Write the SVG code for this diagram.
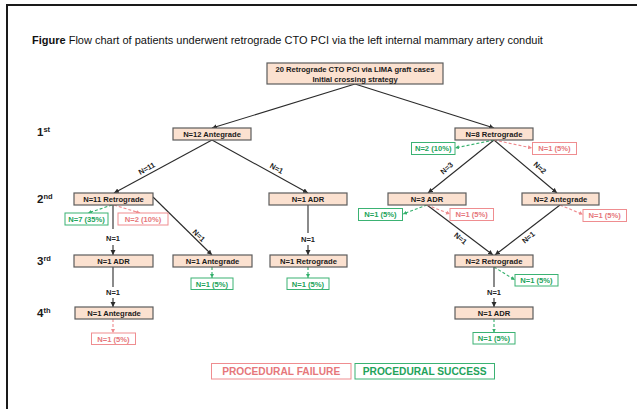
<svg xmlns="http://www.w3.org/2000/svg" width="637" height="409" viewBox="0 0 637 409">
<defs>
<marker id="arr" markerUnits="userSpaceOnUse" markerWidth="6" markerHeight="6" refX="5" refY="2.5" orient="auto"><path d="M0,0 L5,2.5 L0,5 Z" fill="#2b2b2b"/></marker>
<marker id="arrG" markerUnits="userSpaceOnUse" markerWidth="6" markerHeight="6" refX="4" refY="2" orient="auto"><path d="M0,0 L4,2 L0,4 Z" fill="#34b06c"/></marker>
<marker id="arrR" markerUnits="userSpaceOnUse" markerWidth="6" markerHeight="6" refX="4" refY="2" orient="auto"><path d="M0,0 L4,2 L0,4 Z" fill="#ee8a8e"/></marker>
</defs>
<style>
text{font-family:"Liberation Sans",Arial,sans-serif}
.node rect{fill:#fbe1d0;stroke:#5c5c5c;stroke-width:1.2}
.node text{font-weight:bold;font-size:7.6px;fill:#1a1a1a;text-anchor:middle}
.ok rect{fill:#fff;stroke:#3bb273;stroke-width:1}
.ok text{font-weight:bold;font-size:7.6px;fill:#22a35a;text-anchor:middle}
.fail rect{fill:#fff;stroke:#ef8d90;stroke-width:1}
.fail text{font-weight:bold;font-size:7.6px;fill:#e6777b;text-anchor:middle}
.e{stroke:#2b2b2b;stroke-width:1.1;fill:none}
.ea{marker-end:url(#arr)}
.dg{stroke:#34b06c;stroke-width:1.1;stroke-dasharray:3 2;fill:none;marker-end:url(#arrG)}
.dr{stroke:#ee8a8e;stroke-width:1.1;stroke-dasharray:3 2;fill:none;marker-end:url(#arrR)}
.lbl{font-weight:bold;font-size:7.5px;fill:#222;text-anchor:middle}
.lvl{font-weight:bold;font-size:11.5px;fill:#1a1a1a}
.leg{font-weight:bold;font-size:10.2px;text-anchor:middle}
</style>
<rect x="0" y="0" width="637" height="409" fill="#fff"/>
<path d="M7,409 V5 H637" fill="none" stroke="#1a1a1a" stroke-width="2"/>
<text x="32" y="44" font-size="11" fill="#111"><tspan font-weight="bold">Figure</tspan> Flow chart of patients underwent retrograde CTO PCI via the left internal mammary artery conduit</text>

<g id="levels">
<text class="lvl" x="37" y="135.7">1<tspan font-size="7.5" dy="-4">st</tspan></text>
<text class="lvl" x="37" y="203">2<tspan font-size="7.5" dy="-4">nd</tspan></text>
<text class="lvl" x="37" y="265">3<tspan font-size="7.5" dy="-4">rd</tspan></text>
<text class="lvl" x="37" y="317">4<tspan font-size="7.5" dy="-4">th</tspan></text>
</g>

<g id="connectors">
<path class="e ea" d="M355,84 L212,128"/>
<path class="e ea" d="M355,84 L494,128"/>
<path class="e ea" d="M212,140 L114,193"/>
<path class="e ea" d="M212,140 L308,193"/>
<path class="e ea" d="M494,140 L428,193"/>
<path class="e ea" d="M494,140 L557,193"/>
<path class="e" d="M113,205 V229"/>
<path class="e ea" d="M113,245 V255"/>
<path class="e ea" d="M153,197 L212,255"/>
<path class="e" d="M308,205 V233"/>
<path class="e ea" d="M308,245 V255"/>
<path class="e ea" d="M427,205 L493,255"/>
<path class="e ea" d="M560,205 L495,255"/>
<path class="e" d="M113,267 V287"/>
<path class="e ea" d="M113,298 V307"/>
<path class="e" d="M494,267 V287"/>
<path class="e ea" d="M494,298 V307"/>
<path class="dg" d="M112,205 L88,213"/>
<path class="dr" d="M114,205 L140,213"/>
<path class="dg" d="M212,267 V278"/>
<path class="dg" d="M308,267 V278"/>
<path class="dr" d="M113,319 V333"/>
<path class="dg" d="M494,140 L455,148"/>
<path class="dr" d="M494,140 L532,148"/>
<path class="dg" d="M427,205 L403,214"/>
<path class="dr" d="M427,205 L450,214"/>
<path class="dr" d="M560,205 L583,214.5"/>
<path class="dg" d="M494,267 L515,280"/>
<path class="dg" d="M494,319 V332.5"/>
<text class="lbl" transform="translate(146.7,168.3) rotate(-28.5)" y="2.7">N=11</text>
<text class="lbl" transform="translate(276.7,168.3) rotate(29)" y="2.7">N=1</text>
<text class="lbl" x="113" y="241.2">N=1</text>
<text class="lbl" transform="translate(199,235.5) rotate(44.5)" y="2.7">N=1</text>
<text class="lbl" x="308" y="242.2">N=1</text>
<text class="lbl" transform="translate(446.7,168) rotate(-42)" y="2.7">N=3</text>
<text class="lbl" transform="translate(540,167.7) rotate(42)" y="2.7">N=2</text>
<text class="lbl" transform="translate(460.7,238.3) rotate(40)" y="2.7">N=1</text>
<text class="lbl" transform="translate(528.3,237.3) rotate(-40)" y="2.7">N=1</text>
<text class="lbl" x="113" y="295.2">N=1</text>
<text class="lbl" x="494" y="295.2">N=1</text>
</g>

<g id="n-root" class="node"><rect x="267" y="63" width="176" height="21"/><text x="355" y="72.3">20 Retrograde CTO PCI via LIMA graft cases</text><text x="355" y="81.8">Initial crossing strategy</text></g>
<g id="n-ante12" class="node"><rect x="173" y="128" width="78" height="12"/><text x="212" y="136.7">N=12 Antegrade</text></g>
<g id="n-retro8" class="node"><rect x="455" y="128" width="78" height="12"/><text x="494" y="136.7">N=8 Retrograde</text></g>
<g id="n-retro11" class="node"><rect x="74" y="193" width="79" height="12"/><text x="113.5" y="201.7">N=11 Retrograde</text></g>
<g id="n-adr1" class="node"><rect x="269" y="193" width="78" height="12"/><text x="308" y="201.7">N=1 ADR</text></g>
<g id="n-adr3" class="node"><rect x="388" y="193" width="78" height="12"/><text x="427" y="201.7">N=3 ADR</text></g>
<g id="n-ante2" class="node"><rect x="522" y="193" width="77" height="12"/><text x="560.5" y="201.7">N=2 Antegrade</text></g>
<g id="n-adr1b" class="node"><rect x="74" y="255" width="79" height="12"/><text x="113.5" y="263.7">N=1 ADR</text></g>
<g id="n-ante1" class="node"><rect x="173" y="255" width="79" height="12"/><text x="212.5" y="263.7">N=1 Antegrade</text></g>
<g id="n-retro1" class="node"><rect x="270" y="255" width="77" height="12"/><text x="308.5" y="263.7">N=1 Retrograde</text></g>
<g id="n-retro2" class="node"><rect x="455" y="255" width="78" height="12"/><text x="494" y="263.7">N=2 Retrograde</text></g>
<g id="n-ante1b" class="node"><rect x="75" y="307" width="78" height="12"/><text x="114" y="315.7">N=1 Antegrade</text></g>
<g id="n-adr1c" class="node"><rect x="455" y="307" width="78" height="12"/><text x="494" y="315.7">N=1 ADR</text></g>

<g id="o-s7" class="ok"><rect x="65" y="213" width="43" height="12"/><text x="86.5" y="221.7">N=7 (35%)</text></g>
<g id="o-f2" class="fail"><rect x="118" y="213" width="50" height="12"/><text x="143" y="221.7">N=2 (10%)</text></g>
<g id="o-s1a" class="ok"><rect x="191" y="278" width="42" height="11.5"/><text x="212" y="286.5">N=1 (5%)</text></g>
<g id="o-s1b" class="ok"><rect x="287" y="278" width="42" height="11.5"/><text x="308" y="286.5">N=1 (5%)</text></g>
<g id="o-f1a" class="fail"><rect x="91.5" y="333" width="44" height="11.5"/><text x="113.5" y="341.5">N=1 (5%)</text></g>
<g id="o-s2" class="ok"><rect x="411.5" y="142.5" width="43.5" height="12"/><text x="433.2" y="151.2">N=2 (10%)</text></g>
<g id="o-f1b" class="fail"><rect x="532.5" y="142.5" width="44" height="12"/><text x="554.5" y="151.2">N=1 (5%)</text></g>
<g id="o-s1c" class="ok"><rect x="358.5" y="208.5" width="44" height="12"/><text x="380.5" y="217.2">N=1 (5%)</text></g>
<g id="o-f1c" class="fail"><rect x="450" y="208.5" width="43.5" height="12"/><text x="471.7" y="217.2">N=1 (5%)</text></g>
<g id="o-f1d" class="fail"><rect x="583" y="209.5" width="43.5" height="12"/><text x="604.7" y="218.2">N=1 (5%)</text></g>
<g id="o-s1d" class="ok"><rect x="515" y="274.5" width="43" height="11.5"/><text x="536.5" y="283">N=1 (5%)</text></g>
<g id="o-s1e" class="ok"><rect x="473" y="332.5" width="42" height="11.5"/><text x="494" y="341">N=1 (5%)</text></g>

<g id="legend">
<g id="leg-fail"><rect x="211.5" y="363.5" width="139.5" height="15.5" fill="#fff" stroke="#ef8d90" stroke-width="1"/><text class="leg" x="281.2" y="374.8" fill="#e6777b">PROCEDURAL FAILURE</text></g>
<g id="leg-ok"><rect x="355" y="363.5" width="139.5" height="15.5" fill="#fff" stroke="#3bb273" stroke-width="1"/><text class="leg" x="424.7" y="374.8" fill="#22a35a">PROCEDURAL SUCCESS</text></g>
</g>
</svg>
